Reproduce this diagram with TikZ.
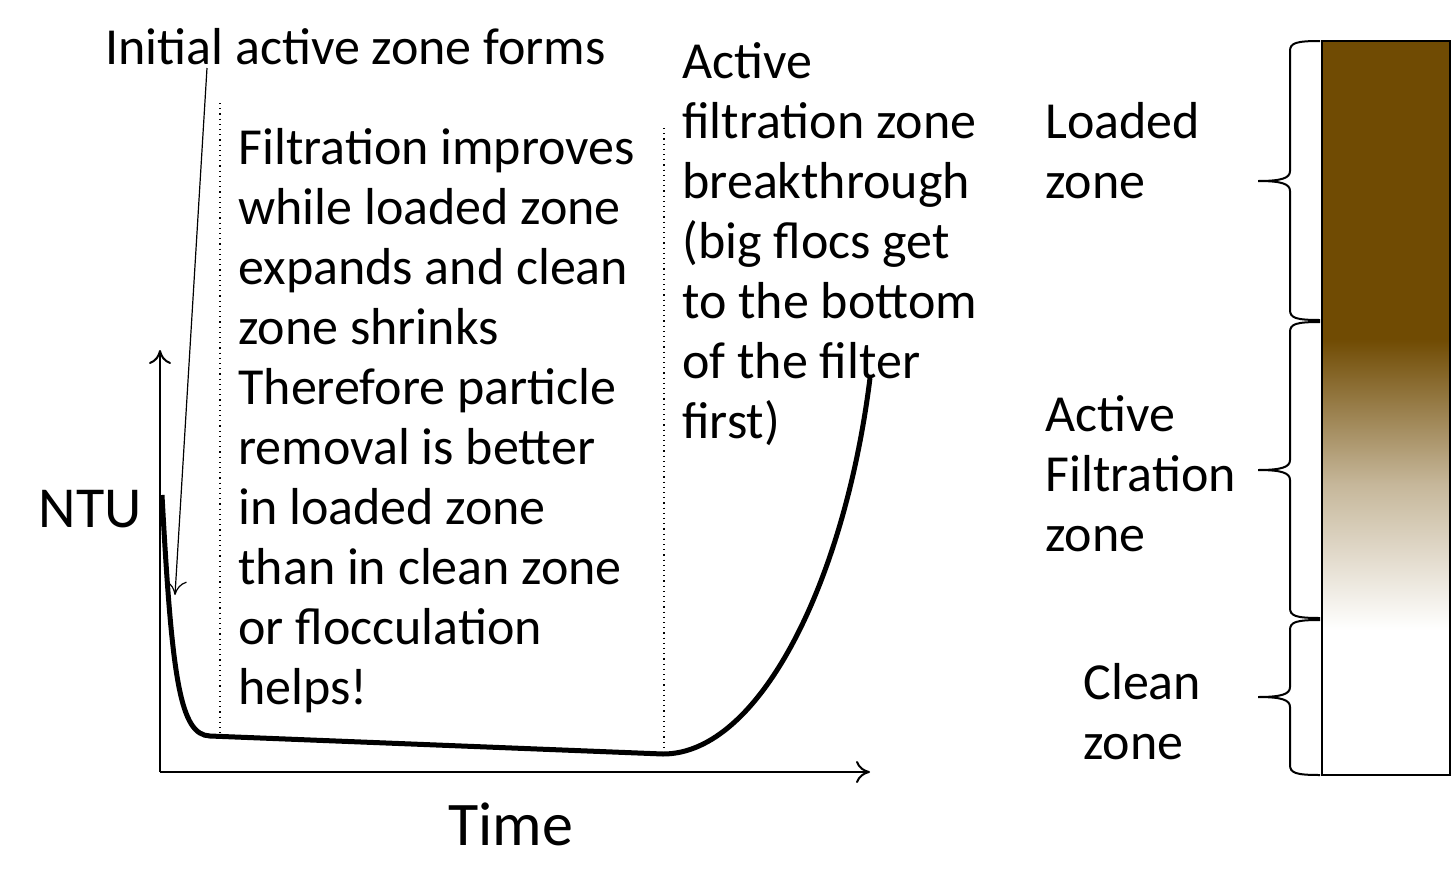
\documentclass[tikz,border=0pt]{standalone}
\usepackage{fontspec}
\setmainfont{Carlito}
\usepackage{xcolor}
\usetikzlibrary{arrows.meta}
\definecolor{mud}{RGB}{112,75,3}
\tikzset{
  txt/.style={anchor=north west, align=left, inner sep=0pt, font=\fontsize{26}{30}\selectfont},
  axis/.style={line width=1pt, -{To[length=7pt,width=11pt]}},
  guide/.style={dotted, line width=0.6pt},
}
% curly bracket left of the filter column: top, tip, bottom
\newcommand{\zonebrace}[3]{%
  \draw[line width=1pt] (1320,#1) .. controls (1296,#1) and (1290,#1+2) .. (1290,#1+10)
    -- (1290,#2-10) .. controls (1290,#2-3) and (1282,#2) .. (1258,#2)
    .. controls (1282,#2) and (1290,#2+3) .. (1290,#2+10)
    -- (1290,#3-10) .. controls (1290,#3-2) and (1296,#3) .. (1320,#3);}
\begin{document}
\begin{tikzpicture}[x=0.5pt,y=-0.5pt]
        \useasboundingbox (0,0) rectangle (1452,895);

        % axes
        \coordinate (org) at (160,772);
        \coordinate (ytop) at (160,350);
        \coordinate (xend) at (870,772);
        \draw[axis] (org) -- (ytop);
        \draw[axis] (org) -- (xend);
        \node[font=\fontsize{29}{30}\selectfont, anchor=east, inner sep=0pt] (ntu) at (142,509) {NTU};
        \node[font=\fontsize{31}{30}\selectfont] (time) at (511,824) {Time};

        % turbidity curve
        \coordinate (c0) at (162,495);
        \coordinate (c1) at (210,736);
        \coordinate (c2) at (663,754);
        \coordinate (c3) at (870,378);
        \draw[line width=2.5pt] (c0) .. controls (172,680) and (180,735) .. (c1)
            -- (c2) .. controls (760,754) and (845,580) .. (c3);

        % stage limits
        \draw[guide] (220,103) -- (220,735);
        \draw[guide] (664,128) -- (664,752);

        % labels
        \node[txt] (init) at (105,28) {Initial active zone forms};
        \coordinate (initend) at (175,595);
        \draw[line width=0.6pt, -{To[length=7pt,width=11pt]}] (207,68) -- (initend);
        \node[txt] (improve) at (238,128) {Filtration improves\\while loaded zone\\expands and clean\\zone shrinks\\Therefore particle\\removal is better\\in loaded zone\\than in clean zone\\or flocculation\\helps!};
        \node[txt] (breakthru) at (682,42) {Active\\filtration zone\\breakthrough\\(big flocs get\\to the bottom\\of the filter\\first)};

        % filter column
        \fill[mud] (1322,41) rectangle (1450,340);
        \shade[top color=mud, bottom color=white, middle color=mud!40] (1322,339) rectangle (1450,630);
        \draw[line width=1.2pt] (1322,41) rectangle (1450,775);
        \zonebrace{41}{181}{320}
        \zonebrace{322}{470}{618}
        \zonebrace{620}{697}{775}
        \node[txt] (loaded) at (1045,102) {Loaded\\zone};
        \node[txt] (active) at (1045,395) {Active\\Filtration\\zone};
        \node[txt] (clean) at (1083,663) {Clean\\zone};
\end{tikzpicture}
\end{document}
